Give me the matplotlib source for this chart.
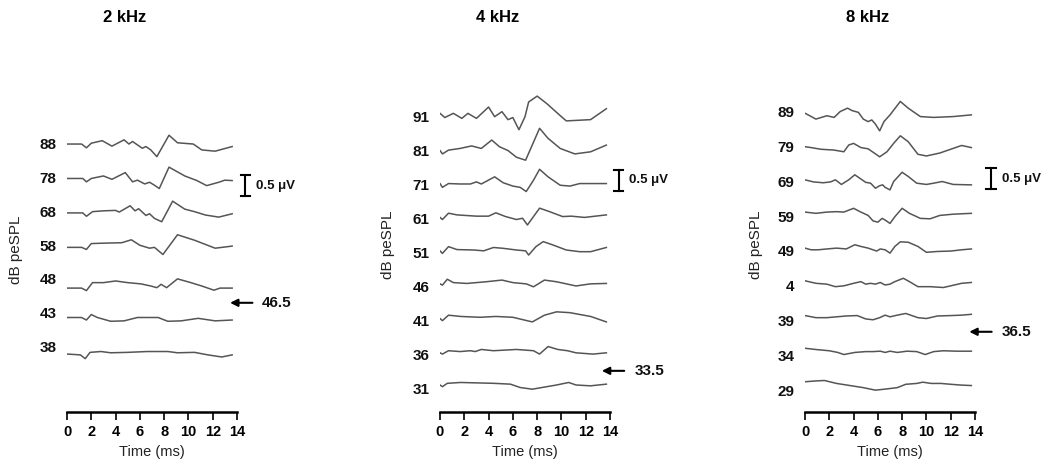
import matplotlib
matplotlib.use("Agg")
import matplotlib.pyplot as plt
import numpy as np

plt.rcParams['font.family'] = ['Liberation Sans', 'DejaVu Sans']
NARROW = ['Liberation Sans Narrow', 'Liberation Sans', 'DejaVu Sans']

# 画像サイズ (px) とスケール
W, H = 1052, 462
PX_PER_MS = 170 / 14
PX_PER_UV = 42

FREQS = ['2 kHz', '4 kHz', '8 kHz']
THRESHOLDS = ['46.5', '33.5', '36.5']
TIME_TICKS = [0, 2, 4, 6, 8, 10, 12, 14]

# 各波形: (時間 ms, 振幅 μV) 上から順に
LEVELS_2K = ['88', '78', '68', '58', '48', '43', '38']
WAVES_2K = [
    [(0, 0), (1.2, 0), (1.6, -0.09), (2.0, 0.02), (2.9, 0.08), (3.7, -0.05), (4.7, 0.1), (5.1, 0),
     (5.4, 0.06), (6.2, -0.1), (6.5, -0.06), (6.9, -0.14), (7.4, -0.3), (8.4, 0.21), (9.1, 0.03),
     (10.4, 0), (11.1, -0.14), (12.2, -0.17), (13.6, -0.06)],
    [(0, 0), (1.3, 0), (1.6, -0.08), (2.0, 0), (3.0, 0.06), (3.7, -0.02), (4.8, 0.14), (5.4, -0.08),
     (5.8, -0.04), (6.4, -0.13), (6.8, -0.09), (7.2, -0.16), (7.6, -0.24), (8.4, 0.27), (9.7, 0.06),
     (10.7, -0.05), (11.5, -0.17), (12.5, -0.09), (13.0, -0.04), (13.6, -0.05)],
    [(0, 0), (1.3, 0), (1.6, -0.08), (2.1, 0.03), (3.0, 0.05), (4.0, 0.06), (4.3, 0.02), (5.2, 0.17),
     (5.6, 0.05), (5.9, 0.1), (6.5, -0.06), (6.8, -0.02), (7.2, -0.13), (7.8, -0.21), (8.7, 0.28),
     (9.7, 0.09), (10.5, 0.03), (11.4, -0.05), (12.5, -0.1), (13.6, -0.02)],
    [(0, 0), (1.2, 0), (1.6, -0.05), (2.0, 0.09), (3.0, 0.1), (4.5, 0.11), (5.3, 0.18), (6.0, 0.05),
     (6.8, -0.02), (7.2, 0), (7.9, -0.17), (9.1, 0.3), (10.5, 0.17), (12.2, -0.02), (13.6, 0.03)],
    [(0, -0.15), (1.2, -0.15), (1.6, -0.21), (2.1, -0.02), (3.0, -0.02), (4.0, 0.02), (5.0, -0.02),
     (6.1, -0.05), (6.9, -0.1), (7.4, -0.14), (7.75, -0.06), (8.2, -0.14), (9.1, 0.07), (10.2, -0.02),
     (11.1, -0.1), (12.1, -0.2), (12.6, -0.15), (13.6, -0.15)],
    [(0, -0.03), (1.2, -0.03), (1.6, -0.09), (2.0, 0.04), (2.5, -0.03), (3.6, -0.12), (4.7, -0.11),
     (5.8, -0.03), (7.5, -0.03), (8.3, -0.12), (9.4, -0.11), (10.8, -0.05), (12.2, -0.11), (13.6, -0.09)],
    [(0, -0.08), (1.1, -0.1), (1.5, -0.19), (1.9, -0.04), (2.8, -0.02), (3.6, -0.05), (5.0, -0.04),
     (6.6, -0.02), (8.3, -0.02), (9.1, -0.05), (10.5, -0.04), (11.6, -0.1), (12.75, -0.15), (13.6, -0.1)],
]

LEVELS_4K = ['91', '81', '71', '61', '51', '46', '41', '36', '31']
WAVES_4K = [
    [(0, 0.06), (0.4, -0.04), (1.1, 0.06), (1.8, -0.06), (2.3, 0.06), (3.0, -0.06), (4.0, 0.21),
     (4.5, -0.02), (5.1, 0.1), (5.6, -0.09), (6.0, -0.04), (6.5, -0.33), (7.0, -0.02), (7.3, 0.33),
     (8.0, 0.47), (8.8, 0.29), (10.0, -0.02), (10.4, -0.12), (12.4, -0.09), (13.7, 0.17)],
    [(0, -0.03), (0.2, -0.11), (0.7, -0.02), (1.65, 0.02), (2.6, 0.08), (3.4, 0.02), (4.26, 0.22),
     (4.9, 0.06), (5.6, -0.03), (6.3, -0.19), (7.05, -0.26), (8.2, 0.5), (8.9, 0.26), (9.9, 0.02),
     (11.1, -0.11), (12.4, -0.06), (13.7, 0.1)],
    [(0, -0.02), (0.2, -0.11), (0.7, -0.02), (1.65, -0.03), (2.5, -0.03), (3.0, 0.02), (3.4, -0.03),
     (4.5, 0.14), (5.2, 0), (6.0, -0.08), (6.6, -0.11), (7.1, -0.21), (7.7, 0.06), (8.2, 0.32),
     (8.9, 0.14), (9.9, -0.06), (10.7, -0.08), (11.5, -0.02), (13.7, -0.02)],
    [(0, -0.03), (0.2, -0.08), (0.7, 0.07), (1.4, 0.03), (3.0, 0), (4.0, 0), (4.6, 0.08), (5.4, -0.01),
     (6.3, -0.08), (6.8, -0.05), (7.2, -0.21), (7.7, -0.01), (8.2, 0.19), (9.0, 0.11), (10.1, -0.01),
     (10.8, 0), (11.9, -0.03), (13.7, 0.03)],
    [(0, -0.03), (0.2, -0.09), (0.7, 0.07), (1.4, 0), (2.8, -0.01), (3.6, -0.03), (4.4, 0.05),
     (5.2, 0.03), (6.3, -0.01), (7.05, -0.03), (7.3, -0.13), (7.9, 0.07), (8.5, 0.19), (9.3, 0.11),
     (10.4, -0.01), (11.5, -0.05), (12.4, -0.05), (13.7, 0.05)],
    [(0, -0.02), (0.2, -0.05), (0.6, 0.09), (1.1, 0.01), (2.2, -0.01), (3.8, 0.03), (5.1, 0.07),
     (6.0, 0.01), (7.1, -0.02), (7.7, -0.09), (8.6, 0.07), (9.6, 0.03), (11.2, -0.07), (12.4, -0.02),
     (13.7, -0.01)],
    [(0, -0.05), (0.2, -0.1), (0.7, 0.03), (1.7, 0), (3.3, -0.02), (4.6, 0), (6.0, -0.02), (7.6, -0.13),
     (8.6, 0.03), (9.6, 0.11), (10.7, 0.09), (12.4, 0), (13.7, -0.13)],
    [(0, -0.07), (0.2, -0.1), (0.7, -0.02), (1.65, -0.04), (2.5, -0.02), (2.9, -0.04), (3.4, 0.01),
     (4.4, -0.02), (6.3, 0.01), (7.7, -0.02), (8.2, -0.1), (8.9, 0.08), (9.7, 0.01), (10.5, -0.02),
     (11.2, -0.07), (12.6, -0.1), (13.7, -0.07)],
    [(0, -0.04), (0.2, -0.08), (0.6, 0), (1.7, 0.02), (4.4, 0), (5.8, -0.02), (6.6, -0.1), (7.6, -0.14),
     (8.8, -0.08), (9.6, -0.04), (10.6, 0.02), (11.2, -0.04), (12.4, -0.06), (13.7, -0.02)],
]

LEVELS_8K = ['89', '79', '69', '59', '49', '4', '39', '34', '29']
WAVES_8K = [
    [(0, 0.04), (0.9, -0.1), (1.8, -0.02), (2.4, -0.06), (2.9, 0.08), (3.5, 0.16), (3.9, 0.1),
     (4.4, 0.06), (4.8, -0.1), (5.2, -0.16), (5.5, -0.12), (5.8, -0.22), (6.15, -0.38), (6.5, -0.16),
     (7.0, 0), (7.85, 0.32), (8.5, 0.16), (9.5, -0.04), (10.6, -0.06), (12.2, -0.04), (13.7, 0)],
    [(0, 0.04), (0.5, 0.02), (1.3, -0.02), (2.4, -0.04), (3.2, -0.08), (3.6, 0.08), (4.0, 0.12),
     (4.6, 0.02), (5.2, -0.01), (5.6, -0.09), (6.15, -0.2), (6.75, -0.08), (7.3, 0.12), (7.85, 0.3),
     (8.5, 0.16), (9.3, -0.14), (10.0, -0.18), (11.1, -0.11), (12.2, 0), (12.9, 0.07), (13.7, 0.02)],
    [(0, 0.05), (0.7, 0), (1.5, -0.02), (2.1, 0), (2.5, 0.05), (3.0, -0.06), (3.6, 0.05), (4.1, 0.17),
     (4.6, 0.07), (5.0, -0.01), (5.4, -0.03), (5.8, -0.15), (6.15, -0.09), (6.4, -0.07), (6.6, -0.13),
     (7.0, -0.19), (7.3, 0.01), (8.0, 0.23), (8.5, 0.13), (9.2, -0.03), (10.0, -0.06), (10.6, -0.03),
     (11.3, 0.01), (12.2, -0.06), (13.7, -0.07)],
    [(0, 0.08), (0.9, 0.05), (1.8, 0.08), (2.6, 0.09), (3.2, 0.08), (4.0, 0.17), (4.6, 0.08), (5.2, 0),
     (5.6, -0.13), (6.0, -0.16), (6.35, -0.07), (6.6, -0.11), (7.0, -0.19), (7.4, -0.03), (8.0, 0.17),
     (8.6, 0.05), (9.5, -0.07), (10.3, -0.08), (11.1, 0), (12.2, 0.03), (13.7, 0.05)],
    [(0, 0.02), (0.5, -0.02), (1.1, -0.02), (1.8, 0), (2.6, 0.02), (3.4, 0), (4.1, 0.1), (4.6, 0.06),
     (5.2, 0.02), (5.9, -0.05), (6.2, 0), (6.6, -0.02), (7.0, -0.1), (7.4, 0.06), (7.85, 0.17),
     (8.5, 0.16), (9.3, 0.06), (10.0, -0.08), (10.9, -0.06), (12.0, -0.05), (12.9, -0.02), (13.7, 0)],
    [(0, 0.04), (0.9, -0.02), (1.8, -0.04), (2.5, -0.1), (3.2, -0.08), (4.0, -0.02), (4.6, 0.02),
     (5.0, -0.04), (5.4, -0.02), (5.8, -0.04), (6.2, 0), (6.6, -0.06), (7.0, -0.04), (7.4, 0.02),
     (8.1, 0.1), (8.6, 0.02), (9.3, -0.1), (10.3, -0.1), (11.4, -0.12), (12.0, -0.08), (12.9, -0.02),
     (13.7, 0)],
    [(0, 0.01), (0.9, -0.04), (1.8, -0.04), (2.6, -0.02), (3.4, 0), (4.3, 0.01), (5.0, -0.07),
     (5.6, -0.09), (6.15, -0.04), (6.6, 0.02), (7.0, -0.02), (7.6, 0.02), (8.3, 0.06), (8.8, 0.01),
     (9.3, -0.04), (10.0, -0.06), (10.9, 0), (12.0, 0.01), (12.9, 0.02), (13.7, 0.04)],
    [(0, 0.03), (0.9, 0), (2.0, -0.03), (2.7, -0.07), (3.2, -0.12), (4.1, -0.07), (5.0, -0.05),
     (5.6, -0.05), (6.2, -0.04), (6.6, -0.07), (7.0, -0.04), (7.6, -0.07), (8.4, -0.04), (9.2, -0.05),
     (9.9, -0.12), (10.6, -0.05), (11.4, -0.03), (12.5, -0.04), (13.7, -0.04)],
    [(0, 0.03), (0.9, 0.05), (1.6, 0.06), (2.6, -0.01), (3.7, -0.06), (4.8, -0.11), (5.8, -0.17),
     (6.75, -0.14), (7.6, -0.11), (8.3, -0.03), (9.2, -0.01), (9.7, 0.02), (10.4, -0.01), (11.2, -0.01),
     (12.0, -0.03), (12.9, -0.05), (13.7, -0.06)],
]

# レイアウト (px / μV)
AX_BOTTOM_PX, AX_TOP_PX = 412, 90
PANELS = [
    dict(left=67, base=1.46, step=0.820, lab_base=1.517, lab_step=0.807, title_x=125, ylab_x=16, ylab_y=250,
         bar=(14.7, 5.14), bar_txt=15.6, arrow=(13.2, 15.5, 2.6), arrow_txt=16.0),
    dict(left=440, base=0.683, step=0.796, lab_base=0.524, lab_step=0.810, title_x=498, ylab_x=388, ylab_y=245,
         bar=(14.7, 5.27), bar_txt=15.6, arrow=(13.1, 15.4, 0.98), arrow_txt=16.0),
    dict(left=805, base=0.690, step=0.798, lab_base=0.483, lab_step=0.829, title_x=868, ylab_x=756, ylab_y=245,
         bar=(15.3, 5.3), bar_txt=16.2, arrow=(13.3, 15.6, 1.91), arrow_txt=16.2),
]

fig = plt.figure(figsize=(W / 100, H / 100), dpi=100)

for p, freq, levels, waves, thr in zip(PANELS, FREQS, [LEVELS_2K, LEVELS_4K, LEVELS_8K],
                                       [WAVES_2K, WAVES_4K, WAVES_8K], THRESHOLDS):
    ax = fig.add_axes([p['left'] / W, (H - AX_BOTTOM_PX) / H, 170 / W, (AX_BOTTOM_PX - AX_TOP_PX) / H])
    ax.set_xlim(0, 14)
    ax.set_ylim(0, (AX_BOTTOM_PX - AX_TOP_PX) / PX_PER_UV)
    n = len(waves)
    for i, (lab, wave) in enumerate(zip(levels, waves)):
        t, v = zip(*wave)
        off = p['base'] + (n - 1 - i) * p['step']
        ax.plot(t, np.array(v) + off, color='#555555', lw=1.1)
        ax.text(-0.85, p['lab_base'] + (n - 1 - i) * p['lab_step'], lab, ha='right', va='center',
                fontsize=11, fontweight='bold', color='#111111')

    # スケールバー 0.5 μV
    bx, by = p['bar']
    ax.plot([bx, bx], [by, by + 0.5], color='black', lw=1.5, clip_on=False)
    for yy in (by, by + 0.5):
        ax.plot([bx - 0.4, bx + 0.4], [yy, yy], color='black', lw=1.5, clip_on=False)
    ax.text(p['bar_txt'], by + 0.25, '0.5 \u03bcV', ha='left', va='center', fontsize=9.5,
            fontweight='bold', color='#111111')

    # 閾値の矢印
    ah, at, ay = p['arrow']
    ax.annotate('', xy=(ah, ay), xytext=(at, ay), annotation_clip=False,
                arrowprops=dict(arrowstyle='-|>', color='black', lw=1.5, mutation_scale=11))
    ax.text(p['arrow_txt'], ay, thr, ha='left', va='center', fontsize=11, fontweight='bold', color='#111111')

    for s in ('left', 'right', 'top'):
        ax.spines[s].set_visible(False)
    ax.spines['bottom'].set_linewidth(1.8)
    ax.set_yticks([])
    ax.set_xticks(TIME_TICKS)
    ax.tick_params(axis='x', length=6, width=1.2, pad=3, labelsize=10.5)
    for lbl in ax.get_xticklabels():
        lbl.set_fontweight('bold')
        lbl.set_family(NARROW)

    fig.text(p['title_x'] / W, 1 - 17 / H, freq, ha='center', va='center', fontsize=12, fontweight='bold')
    fig.text(p['ylab_x'] / W, 1 - p['ylab_y'] / H, 'dB peSPL', rotation=90, ha='center', va='center',
             fontsize=11, color='#222222')
    fig.text((p['left'] + 85) / W, 1 - 452 / H, 'Time (ms)', ha='center', va='center', fontsize=10.5,
             family=NARROW, color='#222222')

fig.savefig('out.png', dpi=100)
